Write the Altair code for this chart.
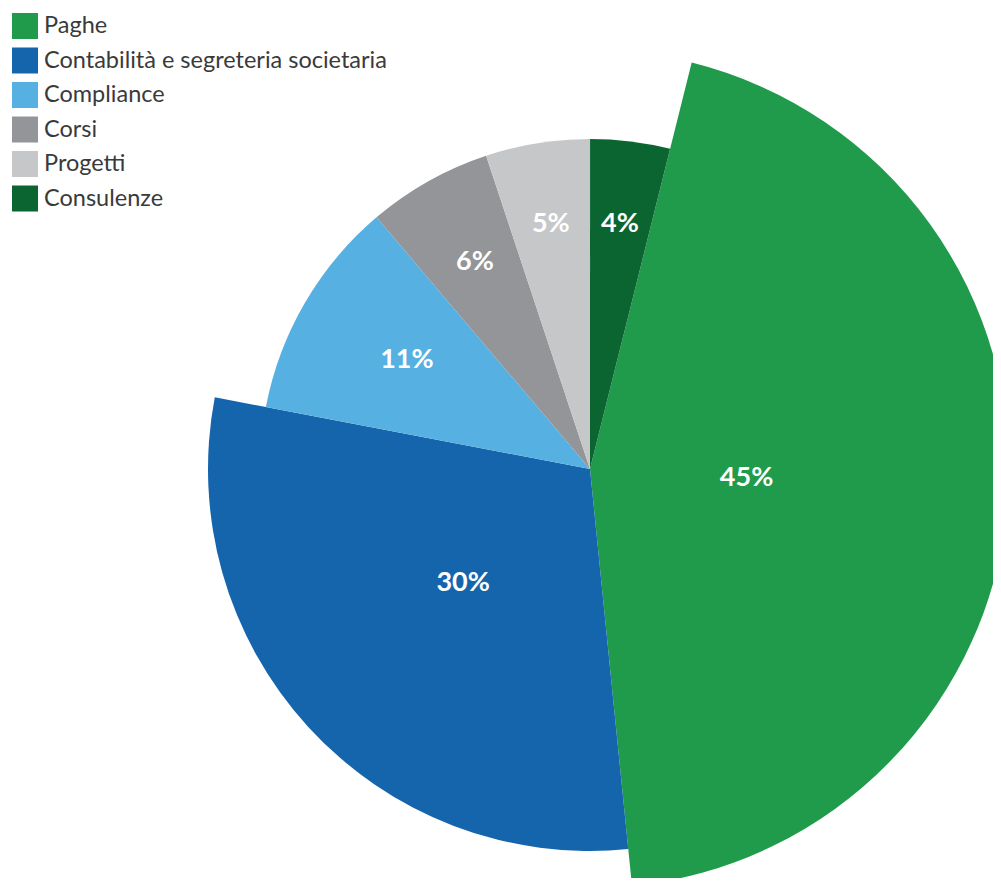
import math
import altair as alt
import pandas as pd

# ---- data ----
categorie = ["Paghe", "Contabilità e segreteria societaria", "Compliance",
             "Corsi", "Progetti", "Consulenze"]
quote = [44.5, 29.6, 10.8, 6.1, 5.1, 3.9]
etichette = ["45%", "30%", "11%", "6%", "5%", "4%"]

# ---- styling ----
colori = ["#1f9b4b", "#1565ad", "#56b0e2", "#939598", "#c6c7c9", "#0b6531"]
raggi = [419, 382, 330, 330, 330, 330]            # outer radius of each slice (px)
raggi_etichette = [157, 172, 212, 235, 246, 245]  # label distance from centre (px)
inizio = math.radians(14.05)                      # start angle of first slice

df = pd.DataFrame({
    "categoria": categorie,
    "quota": quote,
    "etichetta": etichette,
    "ordine": list(range(len(categorie))),
    "r": raggi,
    "rl": raggi_etichette,
})

CX, CY = 582, 461

theta_scale = alt.Scale(domain=[0, 1], range=[inizio, inizio + 2 * math.pi])

base = alt.Chart(df).transform_joinaggregate(
    totale="sum(quota)"
).transform_window(
    cum="sum(quota)", sort=[alt.SortField("ordine", order="ascending")],
    frame=[None, 0],
).transform_calculate(
    fine="datum.cum / datum.totale",
    inizio="(datum.cum - datum.quota) / datum.totale",
    medio="(datum.cum - datum.quota / 2) / datum.totale",
)

arcs = base.mark_arc(x=CX, y=CY, strokeWidth=0).encode(
    theta=alt.Theta("inizio:Q", scale=theta_scale),
    theta2="fine:Q",
    radius=alt.Radius("r:Q", scale=None),
    color=alt.Color(
        "categoria:N",
        scale=alt.Scale(domain=categorie, range=colori),
        sort=categorie,
        legend=alt.Legend(
            title=None, orient="none", legendX=4, legendY=5,
            symbolType="square", symbolSize=676, symbolStrokeWidth=0,
            symbolOpacity=1,
            labelFont="Lato", labelFontSize=23.5, labelColor="#3a3a3a",
            labelOffset=6, rowPadding=8.5, padding=0,
            labelLimit=500,
        ),
    ),
)

labels = base.mark_text(
    x=CX, y=CY, dy=-2,
    font="Lato", fontSize=27, fontWeight="bold", color="white",
    align="center", baseline="middle",
).encode(
    theta=alt.Theta("medio:Q", scale=theta_scale),
    radius=alt.Radius("rl:Q", scale=None),
    text="etichetta:N",
)

chart = (arcs + labels).properties(
    width=985, height=870, padding=0,
    autosize=alt.AutoSizeParams(type="none"),
).configure_view(stroke=None)

chart.save("out.html", embed_options={"renderer": "svg", "actions": False})
